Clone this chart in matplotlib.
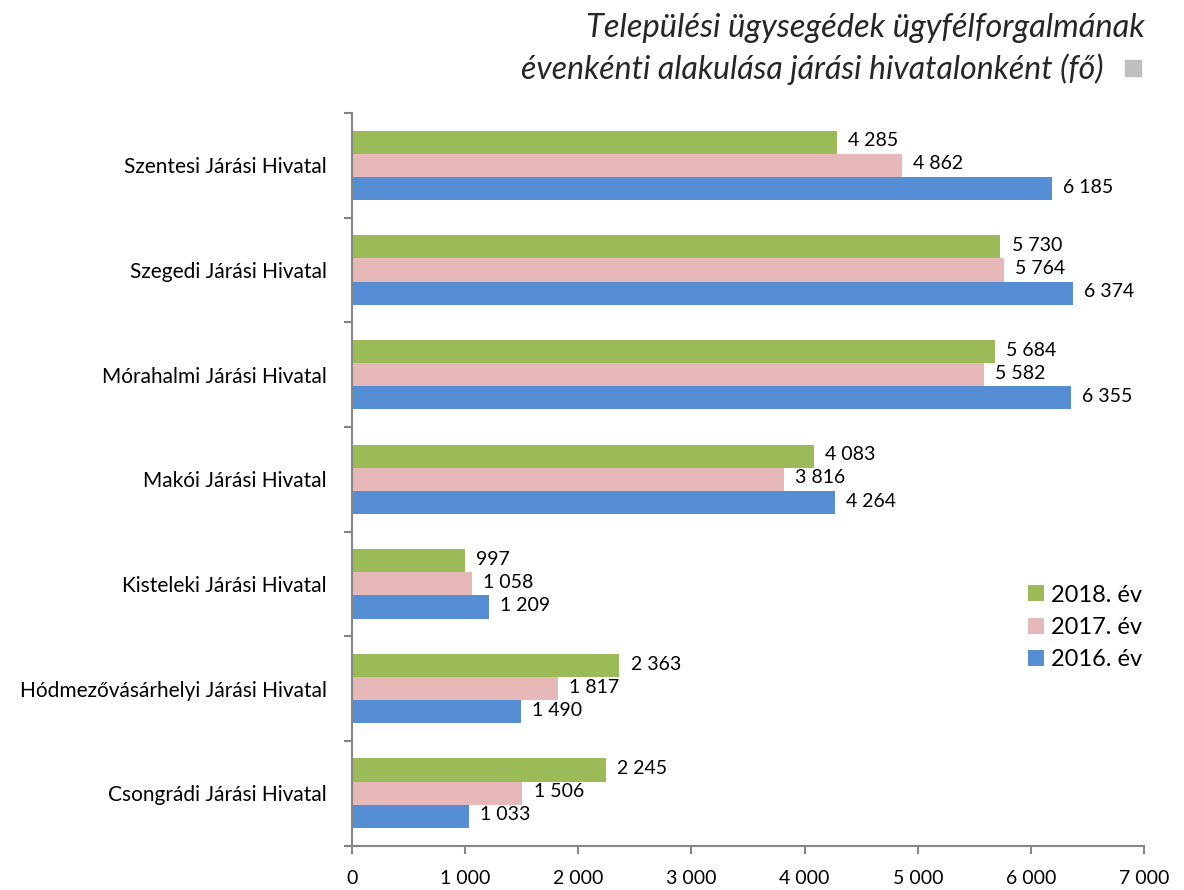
import numpy as np
import matplotlib.pyplot as plt
from matplotlib.patches import Rectangle

plt.rcParams['font.family'] = ['Lato', 'DejaVu Sans']

# data (bottom to top as drawn)
hivatalok = ['Csongrádi Járási Hivatal', 'Hódmezővásárhelyi Járási Hivatal',
             'Kisteleki Járási Hivatal', 'Makói Járási Hivatal',
             'Mórahalmi Járási Hivatal', 'Szegedi Járási Hivatal',
             'Szentesi Járási Hivatal']
ev2018 = [2245, 2363, 997, 4083, 5684, 5730, 4285]
ev2017 = [1506, 1817, 1058, 3816, 5582, 5764, 4862]
ev2016 = [1033, 1490, 1209, 4264, 6355, 6374, 6185]
ev_labels = ['2018. év', '2017. év', '2016. év']
xticks = [0, 1000, 2000, 3000, 4000, 5000, 6000, 7000]

def fmt(v):
    return f'{v:,}'.replace(',', ' ')

fig = plt.figure(figsize=(11.84, 8.9), dpi=100)
ax = fig.add_axes([0.2973, 0.05, 0.669, 0.823])

y = np.arange(len(hivatalok))
h = 0.221
series = [(ev2018, '#9BBB59', h), (ev2017, '#E6B9B8', 0), (ev2016, '#558ED5', -h)]
for (vals, col, off), lab in zip(series, ev_labels):
    bars = ax.barh(y + off, vals, height=h, color=col, label=lab)
    for b, v in zip(bars, vals):
        ax.annotate(fmt(v), (b.get_width(), b.get_y() + b.get_height() / 2),
                    xytext=(8, 1), textcoords='offset points',
                    ha='left', va='center', fontsize=14)

ax.set_xlim(0, 7000)
ax.set_ylim(-0.5, len(hivatalok) - 0.5)
ax.set_xticks(xticks)
ax.set_xticklabels([fmt(t) for t in xticks], fontsize=14)
ax.set_yticks(y)
ax.set_yticklabels(hivatalok, fontsize=15)
ax.tick_params(axis='y', length=0, pad=18)
ax.set_yticks(np.arange(len(hivatalok) + 1) - 0.5, minor=True)
ax.tick_params(axis='y', which='minor', length=6, color='#868686', width=1.5)
ax.tick_params(axis='x', length=6, color='#868686', width=1.5, pad=12)

for s in ['top', 'right']:
    ax.spines[s].set_visible(False)
for s in ['left', 'bottom']:
    ax.spines[s].set_color('#868686')
    ax.spines[s].set_linewidth(1.5)

leg = fig.legend(loc='upper left', bbox_to_anchor=(1028 / 1184, 0.343),
                 frameon=False, fontsize=17, borderpad=0, borderaxespad=0,
                 handlelength=0.66, handleheight=0.66,
                 handletextpad=0.3, labelspacing=0.48)

fig.text(0.967, 0.969, 'Települési ügysegédek ügyfélforgalmának',
         ha='right', va='center', fontsize=23.5, style='italic', color='#262626')
fig.text(0.932, 0.922, 'évenkénti alakulása járási hivatalonként (fő)',
         ha='right', va='center', fontsize=23, style='italic', color='#262626')
fig.patches.append(Rectangle((0.950, 0.9146), 0.0135, 0.018,
                             transform=fig.transFigure, color='#BFBFBF'))

fig.savefig('out.png', dpi=100)
